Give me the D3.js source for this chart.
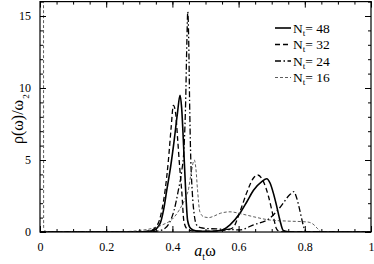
<!DOCTYPE html>
<html><head><meta charset="utf-8">
<script src="https://cdn.jsdelivr.net/npm/d3@7"></script>
<style>
html,body{margin:0;padding:0;background:#fff;}
svg text{font-family:"Liberation Serif","Times New Roman",serif;fill:#000;}
</style></head>
<body><svg id="c" width="374" height="264"></svg>
<script>
// ---- data ----
const xTicks = [0, 0.2, 0.4, 0.6, 0.8, 1];
const xTickLabels = ["0", "0.2", "0.4", "0.6", "0.8", "1"];
const yTicks = [0, 5, 10, 15];
const yTickLabels = ["0", "5", "10", "15"];
const seriesNames = ["N_t= 48", "N_t= 32", "N_t= 24", "N_t= 16"];

const w48 = [0, 0.30, 0.34, 0.363, 0.373, 0.383, 0.395, 0.405, 0.415, 0.423, 0.428, 0.433, 0.44, 0.446, 0.455, 0.47, 0.50, 0.544, 0.574, 0.604, 0.625, 0.645, 0.67, 0.685, 0.695, 0.705, 0.715, 0.725, 0.735, 0.75, 0.77, 1.0];
const v48 = [0, 0, 0.08, 0.6, 1.5, 2.9, 4.6, 6.3, 8.2, 9.5, 8.6, 6.4, 2.9, 0.8, 0.25, 0.08, 0.04, 0.1, 0.5, 1.3, 2.1, 2.9, 3.5, 3.7, 3.4, 2.7, 1.8, 0.8, 0.1, 0.02, 0, 0];

const w32 = [0, 0.30, 0.335, 0.357, 0.368, 0.378, 0.388, 0.396, 0.403, 0.41, 0.416, 0.422, 0.428, 0.435, 0.445, 0.46, 0.50, 0.54, 0.565, 0.583, 0.604, 0.624, 0.645, 0.658, 0.675, 0.69, 0.705, 0.715, 0.725, 0.74, 1.0];
const v32 = [0, 0, 0.1, 0.6, 1.5, 2.9, 5.0, 7.2, 8.8, 8.2, 6.4, 4.5, 2.9, 0.7, 0.2, 0.08, 0.05, 0.08, 0.15, 0.3, 1.4, 2.7, 3.75, 3.96, 3.5, 2.5, 1.06, 0.2, 0.03, 0, 0];

const w24 = [0, 0.30, 0.35, 0.37, 0.39, 0.405, 0.418, 0.428, 0.435, 0.44, 0.4435, 0.4465, 0.4495, 0.452, 0.455, 0.46, 0.466, 0.473, 0.485, 0.50, 0.55, 0.604, 0.645, 0.695, 0.725, 0.755, 0.767, 0.775, 0.785, 0.795, 0.802, 0.82, 1.0];
const v24 = [0, 0, 0.05, 0.15, 0.6, 1.5, 2.9, 4.2, 5.8, 9, 13, 15.3, 13, 9, 5.5, 2.8, 1.2, 0.5, 0.3, 0.25, 0.2, 0.15, 0.5, 0.97, 1.7, 2.6, 2.8, 2.4, 1.5, 0.5, 0.05, 0, 0];

const w16 = [0.0105, 0.011, 0.02, 0.2, 0.25, 0.30, 0.342, 0.37, 0.40, 0.42, 0.44, 0.448, 0.456, 0.466, 0.471, 0.476, 0.483, 0.495, 0.51, 0.525, 0.545, 0.574, 0.61, 0.645, 0.695, 0.745, 0.806, 0.825, 0.838, 0.852, 1.0];
const v16 = [30, 0.3, 0, 0, 0.02, 0.1, 0.27, 0.5, 0.9, 1.5, 2.4, 2.9, 4.0, 5.0, 4.4, 2.9, 1.4, 1.05, 1.0, 1.1, 1.3, 1.4, 1.25, 1.06, 0.83, 0.76, 0.7, 0.55, 0.25, 0, 0];

// ---- layout ----
const L = 40, R = 371, T = 1.6, B = 232;
const svg = d3.select("#c");
const x = d3.scaleLinear().domain([0, 1]).range([L, R]);
const y = d3.scaleLinear().domain([0, 16]).range([B, T]);

svg.append("defs").append("clipPath").attr("id", "clip")
  .append("rect").attr("x", L).attr("y", T).attr("width", R - L).attr("height", B - T);

const styles = [
  {w: 1.6, dash: null, color: "#000"},
  {w: 1.3, dash: "5,3", color: "#000"},
  {w: 1.3, dash: "6,2.5,1.5,2.5", color: "#000"},
  {w: 0.8, dash: "3,2", color: "#333"}
];
const data = [[w48, v48], [w32, v32], [w24, v24], [w16, v16]];
const line = d3.line().x(d => x(d[0])).y(d => y(d[1])).curve(d3.curveMonotoneX);

const g = svg.append("g").attr("clip-path", "url(#clip)");
data.forEach((s, i) => {
  const pts = s[0].map((w, k) => [w, s[1][k]]);
  g.append("path").attr("d", line(pts)).attr("fill", "none")
    .attr("stroke", styles[i].color).attr("stroke-width", styles[i].w)
    .attr("stroke-dasharray", styles[i].dash);
});

// axes (ticks inward on all sides)
const xMinor = d3.range(0, 1.0001, 0.05);
const yMinor = d3.range(0, 16.0001, 1);
function axisStyle(sel) { sel.select(".domain").remove(); sel.selectAll("line").attr("stroke", "#000"); }
svg.append("g").attr("transform", `translate(0,${B})`)
  .call(d3.axisBottom(x).tickValues(xMinor).tickSize(-3).tickFormat(""))
  .call(axisStyle);
svg.append("g").attr("transform", `translate(0,${B})`)
  .call(d3.axisBottom(x).tickValues(xTicks).tickSize(-6).tickPadding(10).tickFormat((d, i) => xTickLabels[i]))
  .call(axisStyle).call(s => s.selectAll("text").attr("font-size", 12));
svg.append("g").attr("transform", `translate(0,${T})`)
  .call(d3.axisTop(x).tickValues(xMinor).tickSize(-3).tickFormat("")).call(axisStyle);
svg.append("g").attr("transform", `translate(0,${T})`)
  .call(d3.axisTop(x).tickValues(xTicks).tickSize(-6).tickFormat("")).call(axisStyle);
svg.append("g").attr("transform", `translate(${L},0)`)
  .call(d3.axisLeft(y).tickValues(yMinor).tickSize(-3).tickFormat("")).call(axisStyle);
svg.append("g").attr("transform", `translate(${L},0)`)
  .call(d3.axisLeft(y).tickValues(yTicks).tickSize(-6).tickPadding(9).tickFormat((d, i) => yTickLabels[i]))
  .call(axisStyle).call(s => s.selectAll("text").attr("font-size", 12));
svg.append("g").attr("transform", `translate(${R},0)`)
  .call(d3.axisRight(y).tickValues(yMinor).tickSize(-3).tickFormat("")).call(axisStyle);
svg.append("g").attr("transform", `translate(${R},0)`)
  .call(d3.axisRight(y).tickValues(yTicks).tickSize(-6).tickFormat("")).call(axisStyle);

svg.append("rect").attr("x", L).attr("y", T).attr("width", R - L).attr("height", B - T)
  .attr("fill", "none").attr("stroke", "#000").attr("stroke-width", 1.2);

// axis titles
const xt = svg.append("text").attr("x", 205).attr("y", 256).attr("text-anchor", "middle").attr("font-size", 16);
xt.append("tspan").attr("font-style", "italic").text("a");
xt.append("tspan").attr("font-size", 10).attr("dy", 4).text("t");
xt.append("tspan").attr("dy", -4).text("ω");

const yt = svg.append("text").attr("transform", "translate(23,144) rotate(-90)")
  .attr("text-anchor", "start").attr("font-size", 16);
yt.append("tspan").text("ρ(ω)/ω");
yt.append("tspan").attr("font-size", 9).attr("dy", 6).attr("dx", 1).text("2");

// legend
const legY = [28, 44.5, 61, 77.5];
seriesNames.forEach((n, i) => {
  svg.append("line").attr("x1", 275).attr("x2", 291).attr("y1", legY[i]).attr("y2", legY[i])
    .attr("stroke", styles[i].color).attr("stroke-width", styles[i].w)
    .attr("stroke-dasharray", styles[i].dash);
  const t = svg.append("text").attr("x", 293).attr("y", legY[i] + 4.5).attr("font-size", 13.5);
  const parts = n.split("_t");
  t.append("tspan").text(parts[0]);
  t.append("tspan").attr("font-size", 9).attr("dy", 3).text("t");
  t.append("tspan").attr("dy", -3).text(parts[1]);
});
</script></body></html>
